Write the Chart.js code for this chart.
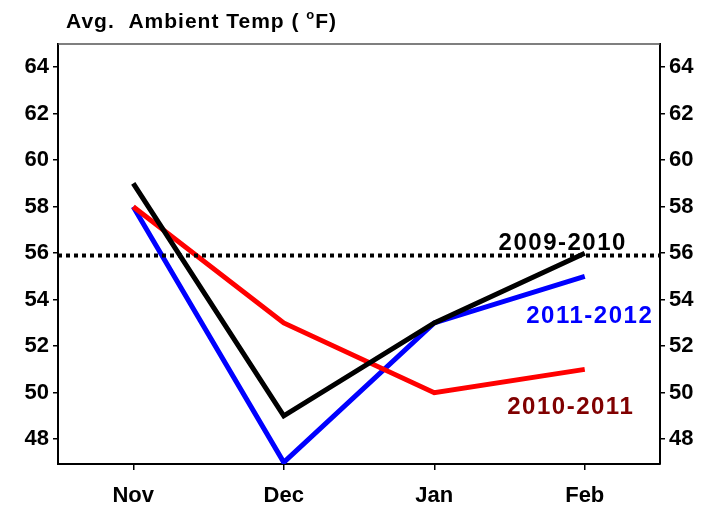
<!DOCTYPE html>
<html>
<head>
<meta charset="utf-8">
<script src="https://cdn.jsdelivr.net/npm/chart.js@4"></script>
<style>
  html,body{margin:0;padding:0;background:#fff;}
  #wrap{width:719px;height:510px;position:relative;}
</style>
</head>
<body>
<div id="wrap"><canvas id="c" width="719" height="510"></canvas></div>
<script>
// data
const months = ['Nov','Dec','Jan','Feb'];
const s0910 = [59, 49, 53, 56];
const s1011 = [58, 53, 50, 51];
const s1112 = [58, 47, 53, 55];
const refTemp = 55.9;
const yTicks = [48,50,52,54,56,58,60,62,64];

const FONT = '"Liberation Sans", Arial, sans-serif';

// dotted reference line, series labels, title and top frame line
const extras = {
  id:'extras',
  afterDatasetsDraw(chart){
    const {ctx, chartArea:a, scales:{x, y}} = chart;
    ctx.save();
    // reference line
    const yr = y.getPixelForValue(refTemp);
    ctx.strokeStyle = '#000'; ctx.lineWidth = 4; ctx.setLineDash([4,4]);
    ctx.beginPath(); ctx.moveTo(a.left, yr); ctx.lineTo(a.right, yr); ctx.stroke();
    ctx.setLineDash([]);
    // top frame
    ctx.strokeStyle = '#555'; ctx.lineWidth = 1.5;
    ctx.beginPath(); ctx.moveTo(a.left, a.top); ctx.lineTo(a.right, a.top); ctx.stroke();
    // series labels
    ctx.font = 'bold 24px ' + FONT;
    ctx.letterSpacing = '1.5px';
    ctx.textAlign = 'center'; ctx.textBaseline = 'alphabetic';
    const xf = x.getPixelForValue(3);
    ctx.fillStyle = '#000';    ctx.fillText('2009-2010', xf - 22, y.getPixelForValue(56.15));
    ctx.fillStyle = '#0000ff'; ctx.fillText('2011-2012', xf + 5, y.getPixelForValue(53.0));
    ctx.fillStyle = '#800000'; ctx.fillText('2010-2011', xf - 14, y.getPixelForValue(49.1));
    // title
    ctx.letterSpacing = '1px';
    ctx.textAlign = 'left'; ctx.fillStyle = '#000';
    let tx = 66;
    ctx.font = 'bold 21px ' + FONT;
    const t1 = 'Avg.  Ambient Temp ( ';
    ctx.fillText(t1, tx, 28); tx += ctx.measureText(t1).width;
    ctx.font = 'bold 13px ' + FONT;
    ctx.fillText('o', tx, 19); tx += ctx.measureText('o').width;
    ctx.font = 'bold 21px ' + FONT;
    ctx.fillText('F)', tx, 28);
    ctx.restore();
  }
};

const yScaleCommon = side => ({
  position: side,
  min: 46.93, max: 65,
  afterBuildTicks: s => { s.ticks = yTicks.map(v => ({value:v})); },
  afterFit: s => { s.width = side === 'left' ? 58 : 59; },
  border:{ color:'#000', width:2 },
  grid:{ drawOnChartArea:false, drawTicks:true, tickLength:5, color:'#000', lineWidth:1.5 },
  ticks:{ color:'#000', font:{ family:FONT, size:22, weight:'bold' }, padding:4 }
});

new Chart(document.getElementById('c'), {
  type:'line',
  data:{ labels: months, datasets:[
    { label:'2009-2010', data:s0910, borderColor:'#000', borderWidth:5, pointRadius:0, borderJoinStyle:'miter', tension:0 },
    { label:'2010-2011', data:s1011, borderColor:'#ff0000', borderWidth:5, pointRadius:0, borderJoinStyle:'miter', tension:0 },
    { label:'2011-2012', data:s1112, borderColor:'#0000ff', borderWidth:5, pointRadius:0, borderJoinStyle:'miter', tension:0 }
  ]},
  options:{
    responsive:false, animation:false, devicePixelRatio:1,
    layout:{ padding:{ top:44, left:0, right:0, bottom:0 } },
    plugins:{ legend:{display:false}, tooltip:{enabled:false} },
    scales:{
      x:{
        offset:true,
        afterFit: s => { s.height = 46; },
        border:{ color:'#000', width:2 },
        grid:{ offset:false, drawOnChartArea:false, drawTicks:true, tickLength:6, color:'#000', lineWidth:1.5 },
        ticks:{ color:'#000', font:{ family:FONT, size:22, weight:'bold' }, padding:13, maxRotation:0 }
      },
      y: yScaleCommon('left'),
      y2: yScaleCommon('right')
    }
  },
  plugins:[extras]
});
</script>
</body>
</html>
